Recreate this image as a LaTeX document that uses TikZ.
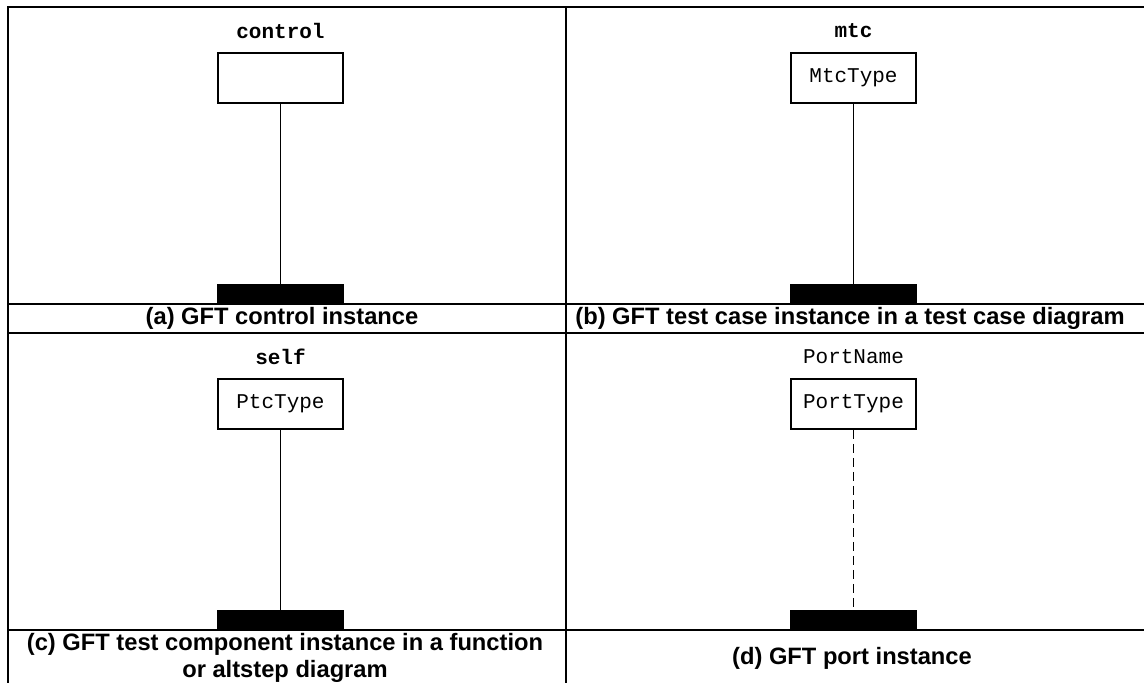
\documentclass[tikz,border=0pt]{standalone}
\usepackage{fontspec}
\setmainfont{Liberation Sans}
\newfontfamily\cour{Liberation Mono}
\begin{document}
\begin{tikzpicture}[x=1pt,y=-1pt,
  frame/.style={line width=2pt},
  inst/.style={draw, line width=1.5pt, minimum width=125pt, minimum height=50pt, inner sep=0pt, font=\cour\fontsize{21}{25}\selectfont},
  bar/.style={fill=black, minimum width=127pt, minimum height=19pt, inner sep=0pt},
  lbl/.style={font=\cour\fontsize{21}{25}\selectfont, inner sep=0pt},
  blbl/.style={font=\cour\bfseries\fontsize{21}{25}\selectfont, inner sep=0pt},
  captxt/.style={font=\bfseries\fontsize{23.7}{26.5}\selectfont, align=center, inner sep=0pt},
  life/.style={line width=1.3pt},
  portlife/.style={line width=1.3pt, dash pattern=on 9pt off 5pt}]
\useasboundingbox (0,0) rectangle (1144,683);
% frame and grid
\draw[frame] (7.7,6.7) rectangle (1147,690);
\draw[frame] (566,6.7) -- (566,690);
\draw[frame] (7.7,304) -- (1147,304);
\draw[frame] (7.7,333) -- (1147,333);
\draw[frame] (7.7,630) -- (1147,630);
% (a)
\node[blbl] (la) at (280.5,31) {control};
\node[inst] (ba) at (280.5,78) {};
\node[bar] (ra) at (280.5,293.5) {};
\draw[life] (ba.south) -- (ra.north);
\node[captxt] (ca) at (282,318.5) {(a) GFT control instance};
% (b)
\node[blbl] (lb) at (853.5,31) {mtc};
\node[inst] (bb) at (853.5,78) {MtcType};
\node[bar] (rb) at (853.5,293.5) {};
\draw[life] (bb.south) -- (rb.north);
\node[captxt] (cb) at (850,318.5) {(b) GFT test case instance in a test case diagram};
% (c)
\node[blbl] (lc) at (280.5,357) {self};
\node[inst] (bc) at (280.5,404) {PtcType};
\node[bar] (rc) at (280.5,619.5) {};
\draw[life] (bc.south) -- (rc.north);
\node[captxt] (cc) at (285,658) {(c) GFT test component instance in a function\\or altstep diagram};
% (d)
\node[lbl] (ld) at (853.5,357) {PortName};
\node[inst] (bd) at (853.5,404) {PortType};
\node[bar] (rd) at (853.5,619.5) {};
\draw[portlife] (bd.south) -- (rd.north);
\node[captxt] (cd) at (852,658) {(d) GFT port instance};
\end{tikzpicture}
\end{document}
